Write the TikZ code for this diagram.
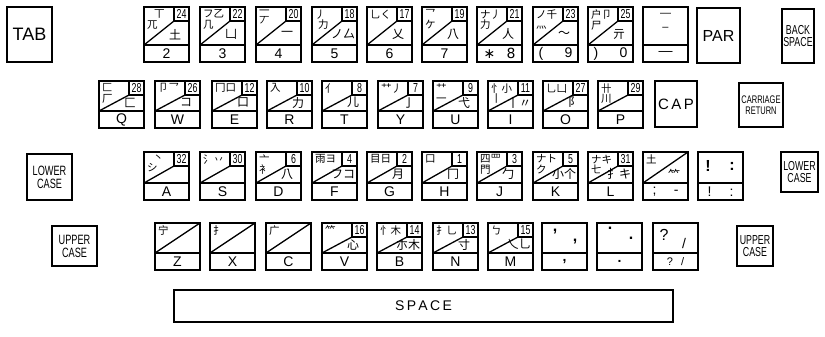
\documentclass[tikz,border=0pt]{standalone}
\usepackage{fontspec}
\setmainfont{Liberation Sans}
\newfontfamily\cjk{Noto Sans CJK TC}
\newfontfamily\narrowfont[FakeStretch=0.68]{Liberation Sans}
\newfontfamily\symfont{DejaVu Sans}
\tikzset{
 keyline/.style={line width=1.3pt},
 keybox/.style={draw, line width=1.3pt, minimum width=45pt, inner sep=0pt, outer sep=0pt, anchor=north west},
 numbox/.style={draw, line width=1.1pt, minimum width=15pt, minimum height=14pt, inner sep=0pt, outer sep=0pt, anchor=north east, font=\narrowfont\fontsize{13}{13}\selectfont},
 ultext/.style={anchor=north west, inner sep=0pt, align=left, font=\cjk\fontsize{10.5}{10.5}\selectfont},
 lrtext/.style={inner sep=0pt, font=\cjk\fontsize{12}{12}\selectfont},
 keylabel/.style={inner sep=0pt, font=\fontsize{14}{14}\selectfont},
 bigkey/.style={draw, line width=1.3pt, inner sep=0pt, outer sep=0pt, anchor=north west, align=center},
 punct/.style={inner sep=0pt, font=\bfseries\fontsize{16}{16}\selectfont},
}
% radical key with number box: name x ytop h u num UL LR label
\newcommand\rkey[9]{%
 \node[keybox, minimum height=#4pt] (#1) at (#2,#3) {};
 \draw[keyline] (#2,#3+#5) -- (#2+45,#3+#5);
 \node[numbox] (#1n) at (#1.north east) {#6};
 \draw[keyline] (#2,#3+#5) -- (#1n.south west);
 \node[ultext] (#1u) at (#2+3,#3+2.5) {#7};
 \node[lrtext] (#1r) at (#2+31,#3+#5*0.72) {#8};
 \node[keylabel] (#1l) at (#2+22.5,#3+#5/2+#4/2) {#9};
}
% diagonal key without number box: name x ytop h u UL LR label
\newcommand\dkey[8]{%
 \node[keybox, minimum height=#4pt] (#1) at (#2,#3) {};
 \draw[keyline] (#2,#3+#5) -- (#2+45,#3+#5);
 \draw[keyline] (#2,#3+#5) -- (#1.north east);
 \node[ultext] (#1u) at (#2+3,#3+2.5) {#6};
 \node[lrtext] (#1r) at (#2+31,#3+#5*0.72) {#7};
 \node[keylabel] (#1l) at (#2+22.5,#3+#5/2+#4/2) {#8};
}
% split key: name x ytop h u label
\newcommand\skey[6]{%
 \node[keybox, minimum height=#4pt] (#1) at (#2,#3) {};
 \draw[keyline] (#2,#3+#5) -- (#2+45,#3+#5);
 \node[keylabel] (#1l) at (#2+22.5,#3+#5/2+#4/2) {#6};
}
\begin{document}
\begin{tikzpicture}[x=1pt,y=-1pt]
\useasboundingbox (0,0) rectangle (825,337);
\fill[white] (0,0) rectangle (825,337);
% ---------- row 1 ----------
\node[bigkey, minimum width=45pt, minimum height=55pt, font=\fontsize{18}{18}\selectfont] (tab) at (7,7) {TAB};
\rkey{k2}{144}{7}{55}{38}{24}{\hspace{7pt}丅\\兀}{土}{2}
\rkey{k3}{200}{7}{55}{38}{22}{フ乙\\几}{凵}{3}
\rkey{k4}{256}{7}{55}{38}{20}{一\\丆}{一}{4}
\rkey{k5}{312}{7}{55}{38}{18}{丿\\\hspace{3pt}力}{ノ厶}{5}
\rkey{k6}{367}{7}{55}{38}{17}{乚く}{乂}{6}
\rkey{k7}{422}{7}{55}{38}{19}{乛\\ケ}{八}{7}
\rkey{k8}{477}{7}{55}{38}{21}{ナ丿\\力}{人}{\makebox[32pt]{\symfont ∗\hfill 8}}
\rkey{k9}{533}{7}{55}{38}{23}{ノ千\\灬}{〜}{\makebox[34pt]{(\hfill 9}}
\rkey{k0}{588}{7}{55}{38}{25}{户卩\\尸}{亓}{\makebox[34pt]{)\hfill 0}}
\skey{kmin}{643}{7}{55}{38}{—}
\node[inner sep=0pt, font=\fontsize{11}{11}\selectfont] (kminu) at (665.5,15) {—};
\node[inner sep=0pt, font=\fontsize{11}{11}\selectfont] (kminv) at (665.5,29) {–};
\node[bigkey, minimum width=43pt, minimum height=55pt, font=\fontsize{16}{16}\selectfont] (par) at (697,8) {PAR};
\node[bigkey, minimum width=32pt, minimum height=54pt, font=\narrowfont\fontsize{13}{12}\selectfont] (bsp) at (782,9) {BACK\\SPACE};
% ---------- row 2 ----------
\rkey{kQ}{99}{81}{47}{30}{28}{匚\\厂}{匚}{Q}
\rkey{kW}{155}{81}{47}{30}{26}{卩乛}{コ}{W}
\rkey{kE}{212}{81}{47}{30}{12}{冂口}{口}{E}
\rkey{kR}{267}{81}{47}{30}{10}{入}{力}{R}
\rkey{kT}{322}{81}{47}{30}{8}{亻}{儿}{T}
\rkey{kY}{378}{81}{47}{30}{7}{艹丿}{亅}{Y}
\rkey{kU}{433}{81}{47}{30}{9}{艹\\一}{弋}{U}
\rkey{kI}{488}{81}{47}{30}{11}{忄小\\丨}{丨〃}{I}
\rkey{kO}{543}{81}{47}{30}{27}{乚凵}{阝}{O}
\rkey{kP}{598}{81}{47}{30}{29}{卄\\川}{}{P}
\node[bigkey, minimum width=42pt, minimum height=46pt, font=\fontsize{15}{15}\selectfont] (cap) at (655,81) {C\,A\,P};
\node[bigkey, minimum width=44pt, minimum height=44pt, font=\narrowfont\fontsize{11}{11.5}\selectfont] (cr) at (739,83) {CARRIAGE\\RETURN};
% ---------- row 3 ----------
\node[bigkey, minimum width=45pt, minimum height=46pt, font=\narrowfont\fontsize{13.5}{13}\selectfont] (lcl) at (27,154) {LOWER\\CASE};
\rkey{kA}{144}{152}{48}{31}{32}{\hspace{6pt}丶\\シ}{}{A}
\rkey{kS}{200}{152}{48}{31}{30}{氵丷}{}{S}
\rkey{kD}{256}{152}{48}{31}{6}{亠\\衤}{八}{D}
\rkey{kF}{312}{152}{48}{31}{4}{雨ヨ}{フコ}{F}
\rkey{kG}{367}{152}{48}{31}{2}{目日}{月}{G}
\rkey{kH}{422}{152}{48}{31}{1}{口}{冂}{H}
\rkey{kJ}{477}{152}{48}{31}{3}{四罒\\門}{勹}{J}
\rkey{kK}{533}{152}{48}{31}{5}{ナト\\ク}{小个}{K}
\rkey{kL}{588}{152}{48}{31}{31}{ナキ\\七}{扌キ}{L}
\dkey{ksemi}{643}{152}{48}{31}{土}{⺮}{\makebox[26pt]{;\hfill -}}
\skey{kexc}{698}{152}{48}{31}{\makebox[26pt]{!\hfill :}}
\node[punct] (kexcu) at (708,166) {!};
\node[punct] (kexcv) at (732,166) {:};
\node[bigkey, minimum width=37pt, minimum height=40pt, font=\narrowfont\fontsize{13}{12.5}\selectfont] (lcr) at (781,152) {LOWER\\CASE};
% ---------- row 4 ----------
\node[bigkey, minimum width=45pt, minimum height=40pt, font=\narrowfont\fontsize{13.5}{13}\selectfont] (ucl) at (52,226) {UPPER\\CASE};
\dkey{kZ}{155}{223}{47}{30}{宁}{}{Z}
\dkey{kX}{210}{223}{47}{30}{扌}{}{X}
\dkey{kC}{266}{223}{47}{30}{广}{}{C}
\rkey{kV}{322}{223}{47}{30}{16}{⺮}{心}{V}
\rkey{kB}{377}{223}{47}{30}{14}{忄木}{朩木}{B}
\rkey{kN}{433}{223}{47}{30}{13}{扌乚}{寸}{N}
\rkey{kM}{488}{223}{47}{30}{15}{ㄅ}{乀乚}{M}
\skey{kcom}{542}{223}{47}{30}{\bfseries ,}
\node[punct] (kcomu) at (555,232) {,};
\node[punct] (kcomv) at (575,242) {,};
\skey{kper}{597}{223}{47}{30}{\bfseries .}
\node[punct] (kperu) at (610,228) {.};
\node[punct] (kperv) at (631,238) {.};
\skey{kque}{653}{223}{47}{30}{\fontsize{11}{11}\selectfont ?\hspace{8pt}/}
\node[inner sep=0pt, font=\fontsize{16}{16}\selectfont] (kqueu) at (664,235) {?};
\node[inner sep=0pt, font=\fontsize{14}{14}\selectfont] (kquev) at (684,243) {/};
\node[bigkey, minimum width=36pt, minimum height=40pt, font=\narrowfont\fontsize{13}{12.5}\selectfont] (ucr) at (737,226) {UPPER\\CASE};
% ---------- space bar ----------
\node[bigkey, minimum width=499pt, minimum height=32pt, font=\fontsize{14}{14}\selectfont] (space) at (174,290) {S\,P\,A\,C\,E};
\end{tikzpicture}
\end{document}
